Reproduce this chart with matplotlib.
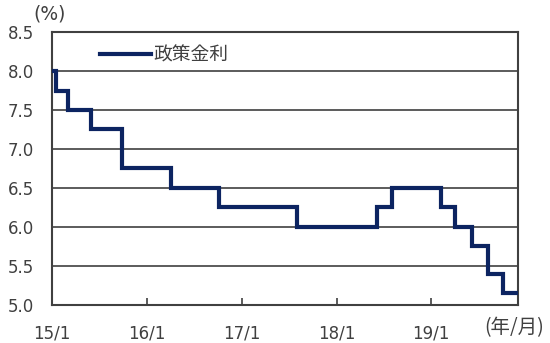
import matplotlib
matplotlib.use("Agg")
import matplotlib.pyplot as plt
import pandas as pd

plt.rcParams['font.family'] = ['DejaVu Sans', 'Noto Sans CJK JP']

# policy rate change dates and values
change_dates = ["2015-01-01", "2015-01-15", "2015-03-04", "2015-06-02", "2015-09-29",
                "2016-04-05", "2016-10-04", "2017-08-02", "2018-06-06", "2018-08-01",
                "2019-02-07", "2019-04-04", "2019-06-06", "2019-08-07", "2019-10-04",
                "2019-12-01"]
rates = [8.00, 7.75, 7.50, 7.25, 6.75, 6.50, 6.25, 6.00, 6.25, 6.50,
         6.25, 6.00, 5.75, 5.40, 5.15, 5.15]
series_name = "政策金利"
x_tick_dates = ["2015-01-01", "2016-01-01", "2017-01-01", "2018-01-01", "2019-01-01"]
x_tick_labels = ["15/1", "16/1", "17/1", "18/1", "19/1"]
y_ticks = [5.0, 5.5, 6.0, 6.5, 7.0, 7.5, 8.0, 8.5]

dates = pd.to_datetime(change_dates)

fig = plt.figure(figsize=(5.5, 3.43), dpi=100)
ax = fig.add_axes([0.0945, 0.1108, 0.8473, 0.7959])

text_color = "#404040"
grid_color = "#404040"

ax.step(dates, rates, where="post", color="#0c2461", lw=3.0,
        solid_joinstyle="miter", label=series_name, zorder=3)

ax.set_xlim(pd.Timestamp("2015-01-01"), pd.Timestamp("2019-12-01"))
ax.set_ylim(5.0, 8.5)
ax.set_yticks(y_ticks)
ax.set_yticklabels([f"{v:.1f}" for v in y_ticks])
ax.set_xticks(pd.to_datetime(x_tick_dates))
ax.set_xticklabels(x_tick_labels)

ax.grid(axis="y", color=grid_color, lw=1.2)
ax.set_axisbelow(True)
for s in ax.spines.values():
    s.set_color(grid_color)
    s.set_linewidth(1.5)

ax.tick_params(axis="y", length=0, pad=13, labelsize=12, labelcolor=text_color)
ax.tick_params(axis="x", direction="in", length=5, width=1.2, color=grid_color,
               pad=14, labelsize=12, labelcolor=text_color)

leg = ax.legend(loc="upper left", bbox_to_anchor=(0.103, 0.955), frameon=False,
                fontsize=13.5, handlelength=2.7, handletextpad=0.12,
                labelcolor=text_color, borderaxespad=0, borderpad=0,
                prop={'family': ['Noto Sans CJK JP', 'DejaVu Sans'], 'size': 13.5})

fig.text(50 / 550, 1 - 14 / 343, "(%)", ha="center", va="center",
         fontsize=13.5, color=text_color)
fig.text(514 / 550, 1 - 328 / 343, "(年/月)", ha="center", va="center",
         fontsize=14, color=text_color, family=['Noto Sans CJK JP', 'DejaVu Sans'])

fig.savefig("out.png", dpi=100)
